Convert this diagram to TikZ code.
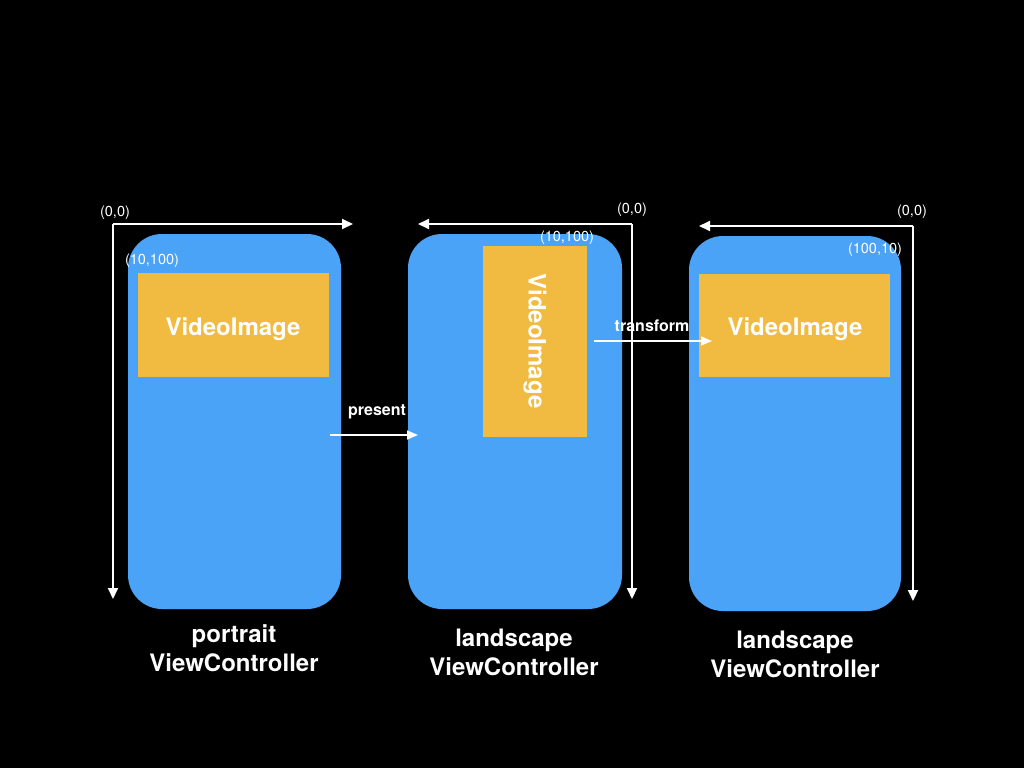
\documentclass[tikz,border=0pt]{standalone}
\usepackage{fontspec}
\setmainfont{TeX Gyre Heros}
\usetikzlibrary{arrows.meta}
\definecolor{phoneblue}{HTML}{4AA3F7}
\definecolor{vidyellow}{HTML}{F0BB40}
\begin{document}
\begin{tikzpicture}[x=1pt,y=-1pt,
  phone/.style={fill=phoneblue,draw=none,rounded corners=34pt},
  vid/.style={fill=vidyellow,draw=none},
  vidtext/.style={text=white,font=\bfseries\fontsize{24}{28}\selectfont},
  axis/.style={draw=white,line width=2pt,-{Triangle[length=11pt,width=10pt]}},
  flow/.style={draw=white,line width=1.6pt,-{Triangle[length=11pt,width=9pt]}},
  coord/.style={text=white,font=\fontsize{14.5}{16}\selectfont,inner sep=0pt},
  flowlabel/.style={text=white,font=\bfseries\fontsize{16}{18}\selectfont,inner sep=0pt},
  caption/.style={text=white,font=\bfseries\fontsize{24}{29}\selectfont,align=center,inner sep=0pt}]
\fill[black] (0,0) rectangle (1024,768);
\useasboundingbox (0,0) rectangle (1024,768);

% phone 1
\path[phone] (128,234) rectangle (341,609);
\node[vid,minimum width=191pt,minimum height=104pt,inner sep=0pt] (v1) at (233.5,325) {};
\node[vidtext] (t1) at (233,329) {VideoImage};
\coordinate (o1) at (113,224);
\coordinate (x1) at (353,224);
\coordinate (y1) at (113,599);
\draw[axis] (x1 -| o1) -- (x1);
\draw[axis] (o1) -- (y1);
\node[coord] (c1) at (115,213) {(0,0)};
\node[coord] (d1) at (152,261) {(10,100)};
\node[caption] (cap1) at (234,648) {portrait\\ViewController};

% phone 2
\path[phone] (408,234) rectangle (622,609);
\node[vid,minimum width=104pt,minimum height=191pt,inner sep=0pt] (v2) at (535,341.5) {};
\node[vidtext,rotate=-90] (t2) at (535,341) {VideoImage};
\coordinate (o2) at (632,224);
\coordinate (x2) at (418,224);
\coordinate (y2) at (632,599);
\draw[axis] (o2) -- (x2);
\draw[axis] (o2) -- (y2);
\node[coord] (c2) at (632,210) {(0,0)};
\node[coord] (d2) at (567,238) {(10,100)};
\node[caption] (cap2) at (514,652) {landscape\\ViewController};

% phone 3
\path[phone] (689,236) rectangle (901,611);
\node[vid,minimum width=191pt,minimum height=103pt,inner sep=0pt] (v3) at (794.5,325.5) {};
\node[vidtext] (t3) at (795,329) {VideoImage};
\coordinate (o3) at (913,226);
\coordinate (x3) at (699,226);
\coordinate (y3) at (913,601);
\draw[axis] (o3) -- (x3);
\draw[axis] (o3) -- (y3);
\node[coord] (c3) at (912,212) {(0,0)};
\node[coord] (d3) at (875,250) {(100,10)};
\node[caption] (cap3) at (795,654) {landscape\\ViewController};

% flows
\coordinate (p1) at (330,435);
\coordinate (p2) at (418,435);
\draw[flow] (p1) -- (p2);
\node[flowlabel] (pl) at (377,412) {present};
\coordinate (q1) at (594,341);
\coordinate (q2) at (712,341);
\draw[flow] (q1) -- (q2);
\node[flowlabel] (ql) at (652,326) {transform};
\end{tikzpicture}
\end{document}
